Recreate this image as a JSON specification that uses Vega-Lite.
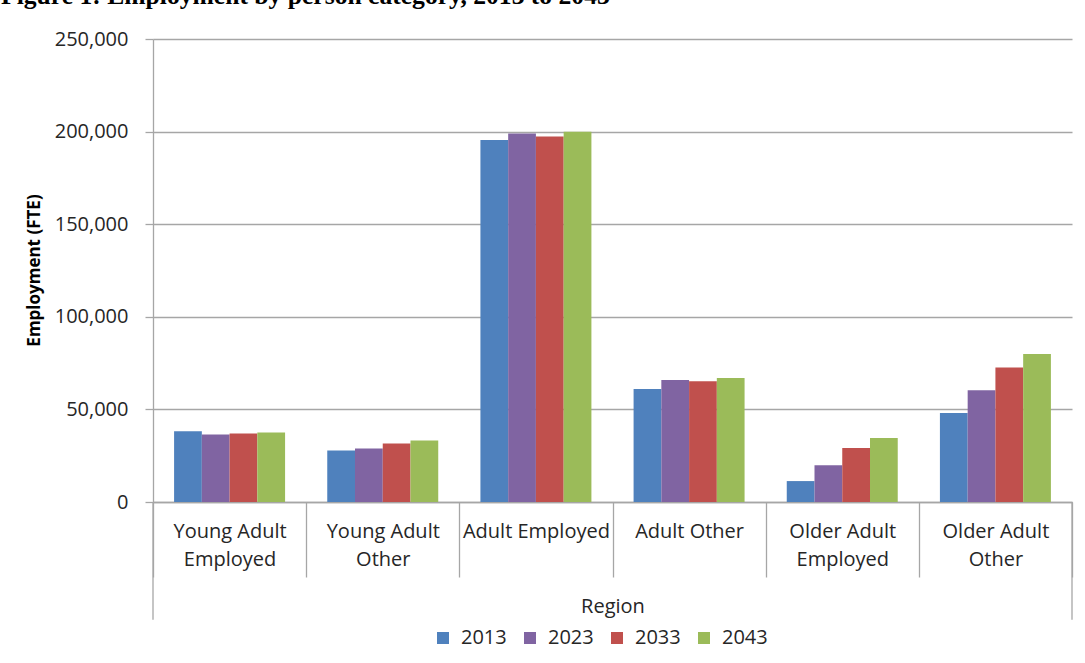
{
  "$schema": "https://vega.github.io/schema/vega-lite/v6.json",
  "width": 919,
  "height": 463,
  "autosize": {"type": "none"},
  "padding": {"left": 153, "top": 39, "right": 13, "bottom": 161},
  "background": "white",
  "title": {
    "text": "Figure 1: Employment by person category, 2013 to 2043",
    "anchor": "start",
    "frame": "group",
    "font": "Liberation Serif",
    "fontSize": 25.6,
    "fontWeight": "bold",
    "color": "#000000",
    "baseline": "alphabetic",
    "dx": -152,
    "dy": 5
  },
  "config": {
    "view": {"stroke": null},
    "font": "Open Sans"
  },
  "data": {
    "values": [
      {"category": "Young Adult Employed", "year": "2013", "employment": 38250},
      {"category": "Young Adult Employed", "year": "2023", "employment": 36500},
      {"category": "Young Adult Employed", "year": "2033", "employment": 37000},
      {"category": "Young Adult Employed", "year": "2043", "employment": 37550},
      {"category": "Young Adult Other", "year": "2013", "employment": 27850},
      {"category": "Young Adult Other", "year": "2023", "employment": 28900},
      {"category": "Young Adult Other", "year": "2033", "employment": 31600},
      {"category": "Young Adult Other", "year": "2043", "employment": 33250},
      {"category": "Adult Employed", "year": "2013", "employment": 195400},
      {"category": "Adult Employed", "year": "2023", "employment": 199000},
      {"category": "Adult Employed", "year": "2033", "employment": 197400},
      {"category": "Adult Employed", "year": "2043", "employment": 199900},
      {"category": "Adult Other", "year": "2013", "employment": 61000},
      {"category": "Adult Other", "year": "2023", "employment": 65900},
      {"category": "Adult Other", "year": "2033", "employment": 65200},
      {"category": "Adult Other", "year": "2043", "employment": 67000},
      {"category": "Older Adult Employed", "year": "2013", "employment": 11300},
      {"category": "Older Adult Employed", "year": "2023", "employment": 19800},
      {"category": "Older Adult Employed", "year": "2033", "employment": 29100},
      {"category": "Older Adult Employed", "year": "2043", "employment": 34500},
      {"category": "Older Adult Other", "year": "2013", "employment": 48100},
      {"category": "Older Adult Other", "year": "2023", "employment": 60300},
      {"category": "Older Adult Other", "year": "2033", "employment": 72600},
      {"category": "Older Adult Other", "year": "2043", "employment": 79900}
    ]
  },
  "layer": [
    {
      "mark": {"type": "bar"},
      "encoding": {
        "x": {
          "field": "category",
          "type": "nominal",
          "sort": ["Young Adult Employed", "Young Adult Other", "Adult Employed", "Adult Other", "Older Adult Employed", "Older Adult Other"],
          "scale": {"paddingInner": 0, "paddingOuter": 0},
          "axis": {
            "title": "Region",
            "titleFontSize": 20,
            "titleFontWeight": "normal",
            "titleColor": "#262626",
            "titleBaseline": "alphabetic",
            "titleY": 110,
            "labelAngle": 0,
            "labelFontSize": 20,
            "labelColor": "#262626",
            "labelBaseline": "top",
            "labelLineHeight": 28,
            "labelPadding": -56,
            "labelExpr": "datum.value == 'Young Adult Employed' ? ['Young Adult', 'Employed'] : datum.value == 'Young Adult Other' ? ['Young Adult', 'Other'] : datum.value == 'Older Adult Employed' ? ['Older Adult', 'Employed'] : datum.value == 'Older Adult Other' ? ['Older Adult', 'Other'] : datum.value",
            "tickBand": "extent",
            "tickSize": 75,
            "tickColor": "#a6a6a6",
            "tickWidth": 1.3,
            "domainColor": "#a6a6a6",
            "domainWidth": 1.3,
            "grid": false
          }
        },
        "xOffset": {
          "field": "year",
          "type": "nominal",
          "scale": {"paddingOuter": 0.76, "paddingInner": 0}
        },
        "y": {
          "field": "employment",
          "type": "quantitative",
          "scale": {"domain": [0, 250000], "nice": false, "zero": false},
          "axis": {
            "title": "Employment (FTE)",
            "titleFontSize": 17,
            "titleFontWeight": "bold",
            "titleColor": "#000000",
            "titleX": -110,
            "titleY": 231,
            "titleAngle": -90,
            "titleAlign": "center",
            "titleBaseline": "bottom",
            "values": [0, 50000, 100000, 150000, 200000, 250000],
            "format": ",.0f",
            "labelFontSize": 20,
            "labelColor": "#262626",
            "labelPadding": 17,
            "tickSize": 8,
            "tickColor": "#a6a6a6",
            "tickWidth": 1.3,
            "domainColor": "#a6a6a6",
            "domainWidth": 1.3,
            "gridColor": "#a6a6a6",
            "gridWidth": 1.3
          }
        },
        "color": {
          "field": "year",
          "type": "nominal",
          "scale": {"domain": ["2013", "2023", "2033", "2043"], "range": ["#4F81BD", "#8064A2", "#C0504D", "#9BBB59"]},
          "legend": {
            "title": null,
            "orient": "none",
            "direction": "horizontal",
            "legendX": 280,
            "legendY": 589,
            "symbolType": "square",
            "symbolSize": 144,
            "symbolStrokeWidth": 0,
            "labelFontSize": 20,
            "labelColor": "#262626",
            "labelOffset": 8,
            "columnPadding": 13
          }
        }
      }
    },
    {
      "data": {"values": [{}]},
      "mark": {"type": "rule", "color": "#a6a6a6", "strokeWidth": 1.3},
      "encoding": {
        "x": {"datum": "Young Adult Employed", "bandPosition": 0},
        "y": {"datum": 0, "scale": {"domain": [0, 250000], "nice": false, "zero": false}},
        "y2": {"datum": -63600}
      }
    },
    {
      "data": {"values": [{}]},
      "mark": {"type": "rule", "color": "#a6a6a6", "strokeWidth": 1.3},
      "encoding": {
        "x": {"datum": "Older Adult Other", "bandPosition": 1},
        "y": {"datum": 0, "scale": {"domain": [0, 250000], "nice": false, "zero": false}},
        "y2": {"datum": -63600}
      }
    }
  ]
}
